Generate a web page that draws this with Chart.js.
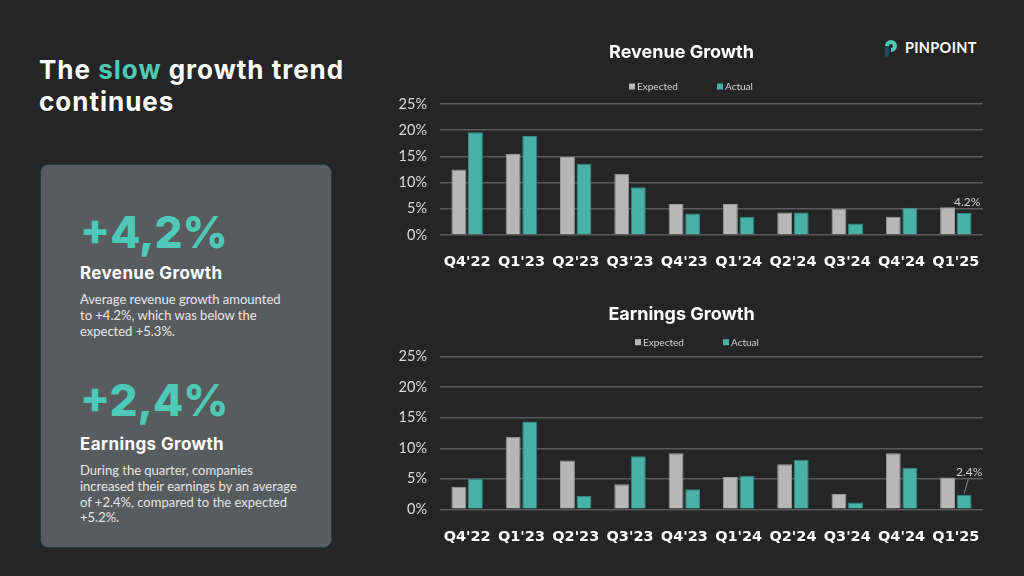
<!DOCTYPE html>
<html>
<head>
<meta charset="utf-8">
<script src="https://cdn.jsdelivr.net/npm/chart.js@4.4.1/dist/chart.umd.min.js"></script>
<style>
  html, body { margin:0; padding:0; }
  body { width:1024px; height:576px; background:#252525; position:relative; overflow:hidden; font-family:Lato, sans-serif; }
  .headline { position:absolute; left:39px; top:54px; font-family:Inter, sans-serif; font-weight:700; font-size:26px; line-height:32px; color:#fff; letter-spacing:1px; }
  .headline .hl { color:#4ec9b8; }
  .panel { position:absolute; left:40px; top:164px; width:290px; height:382px; background:#595c5f; border:1px solid #1d3a3f; border-radius:8px; }
  .big { position:absolute; left:39px; font-family:Inter, sans-serif; font-weight:800; font-size:44px; line-height:50px; color:#4ec9b8; }
  .sub { position:absolute; left:39px; font-family:Inter, sans-serif; font-weight:700; font-size:17px; line-height:20px; color:#fff; letter-spacing:0.4px; }
  .body { position:absolute; left:39px; width:220px; font-family:Lato, sans-serif; font-size:13px; line-height:15.8px; color:#e6e6e6; }
  .logo { position:absolute; left:884px; top:38px; display:flex; align-items:center; }
  .logo span { font-family:Lato, sans-serif; font-weight:700; font-size:14.5px; color:#fff; margin-left:7px; letter-spacing:0.3px; }
  canvas { position:absolute; }
</style>
</head>
<body>
<div class="headline">The <span class="hl">slow</span> growth trend<br>continues</div>

<div class="panel">
  <div class="big" style="top:42px;">+4,2%</div>
  <div class="sub" style="top:98px;">Revenue Growth</div>
  <div class="body" style="top:127px; width:208px;">Average revenue growth amounted to +4.2%, which was below the expected +5.3%.</div>
  <div class="big" style="top:210px;">+2,4%</div>
  <div class="sub" style="top:269px;">Earnings Growth</div>
  <div class="body" style="top:298px;">During the quarter, companies increased their earnings by an average of +2.4%, compared to the expected +5.2%.</div>
</div>

<div class="logo">
  <svg width="14" height="19" viewBox="0 0 14 19">
    <path d="M1 8 A6 6 0 1 1 7 14 L7 10 A2 2 0 1 0 5 8 Z" fill="#4ec9b8"/>
    <path d="M1 8 L5 8 L5 18 L1 19 Z" fill="#1f4a6e"/>
  </svg>
  <span>PINPOINT</span>
</div>

<canvas id="revChart" style="left:380px; top:30px;" width="640" height="260"></canvas>
<canvas id="earnChart" style="left:380px; top:290px;" width="640" height="286"></canvas>

<script>
// ----- data -----
const quarters = ["Q4'22","Q1'23","Q2'23","Q3'23","Q4'23","Q1'24","Q2'24","Q3'24","Q4'24","Q1'25"];
const revExpected = [12.5, 15.5, 14.9, 11.7, 5.9, 5.9, 4.3, 5.0, 3.5, 5.3];
const revActual   = [19.6, 18.9, 13.6, 9.1, 4.1, 3.5, 4.3, 2.2, 5.2, 4.2];
const earnExpected = [3.7, 11.9, 8.0, 4.1, 9.2, 5.3, 7.4, 2.5, 9.2, 5.2];
const earnActual   = [5.0, 14.4, 2.2, 8.7, 3.3, 5.5, 8.1, 1.1, 6.8, 2.4];
const yTicks = [0, 5, 10, 15, 20, 25];

const GREY = "#b7b7b7";
const TEAL = "#48b2a8";

// ----- plugins -----
// small legend above plot, placed relative to chart area
const customLegend = {
  id: "customLegend",
  afterDraw(chart, args, opts){
    const ctx = chart.ctx, a = chart.chartArea;
    ctx.save();
    ctx.font = "10px Lato";
    ctx.textBaseline = "middle";
    chart.data.datasets.forEach((ds, i) => {
      const x = a.left + opts.xs[i], y = a.top - opts.dy;
      ctx.fillStyle = ds.backgroundColor;
      ctx.fillRect(x, y - 3, 6, 6);
      ctx.fillStyle = "#d2d2d2";
      ctx.fillText(ds.label, x + 8, y + 0.5);
    });
    ctx.restore();
  }
};

// value label on the last "Actual" bar
const lastLabel = {
  id: "lastLabel",
  afterDatasetsDraw(chart, args, opts){
    const meta = chart.getDatasetMeta(1);
    const el = meta.data[meta.data.length - 1];
    const val = chart.data.datasets[1].data[meta.data.length - 1];
    const ctx = chart.ctx;
    ctx.save();
    if(opts.leader){
      ctx.strokeStyle = "#8a8a8a"; ctx.lineWidth = 1;
      ctx.beginPath(); ctx.moveTo(el.x, el.y - 1); ctx.lineTo(el.x + 4, el.y - 15); ctx.stroke();
    }
    ctx.font = "12px Lato";
    ctx.fillStyle = "#d0d0d0";
    ctx.textAlign = "center"; ctx.textBaseline = "middle";
    ctx.fillText(val.toFixed(1) + "%", el.x + opts.dx, el.y - opts.dy);
    ctx.restore();
  }
};

function makeChart(id, title, expected, actual, cfg){
  return new Chart(document.getElementById(id), {
    type: "bar",
    data: {
      labels: quarters,
      datasets: [
        { label: "Expected", data: expected, backgroundColor: GREY, borderColor: "#9a9a9a", borderWidth: 1 },
        { label: "Actual", data: actual, backgroundColor: TEAL, borderColor: "#2f8c83", borderWidth: 1 }
      ]
    },
    options: {
      responsive: false,
      animation: false,
      categoryPercentage: 0.61,
      barPercentage: 0.9,
      layout: { padding: { left: 0, right: 37, top: 0, bottom: 0 } },
      plugins: {
        legend: { display: false },
        tooltip: { enabled: false },
        title: {
          display: true, text: title, color: "#ffffff",
          font: { family: "Inter", weight: "bold", size: 18 },
          padding: { top: cfg.titleTop, bottom: cfg.titleBottom }
        },
        customLegend: { xs: cfg.legendXs, dy: cfg.legendDy },
        lastLabel: cfg.label
      },
      scales: {
        x: {
          grid: { display: false, drawTicks: false },
          border: { display: false },
          ticks: { color: "#ffffff", padding: 19, font: { family: "DejaVu Sans", weight: "bold", size: 14.5 } },
          afterFit(s){ s.height = cfg.xHeight; }
        },
        y: {
          min: 0, max: 25,
          afterBuildTicks(s){ s.ticks = yTicks.map(v => ({ value: v })); },
          grid: { color: "#5a5a5a", lineWidth: 1.5, drawTicks: false },
          border: { display: false },
          ticks: { color: "#dcdcdc", padding: 13, font: { family: "Lato", size: 14.5 }, callback: v => v + "%" },
          afterFit(s){ s.width = 60; }
        }
      }
    },
    plugins: [customLegend, lastLabel]
  });
}

makeChart("revChart", "Revenue Growth", revExpected, revActual, {
  titleTop: 11.4, titleBottom: 41, xHeight: 55,
  legendXs: [189, 277], legendDy: 17.5,
  label: { dx: 3, dy: 11, leader: false }
});

makeChart("earnChart", "Earnings Growth", earnExpected, earnActual, {
  titleTop: 13.4, titleBottom: 31.7, xHeight: 66.7,
  legendXs: [195, 283], legendDy: 14.5,
  label: { dx: 5, dy: 23, leader: true }
});
</script>
</body>
</html>
